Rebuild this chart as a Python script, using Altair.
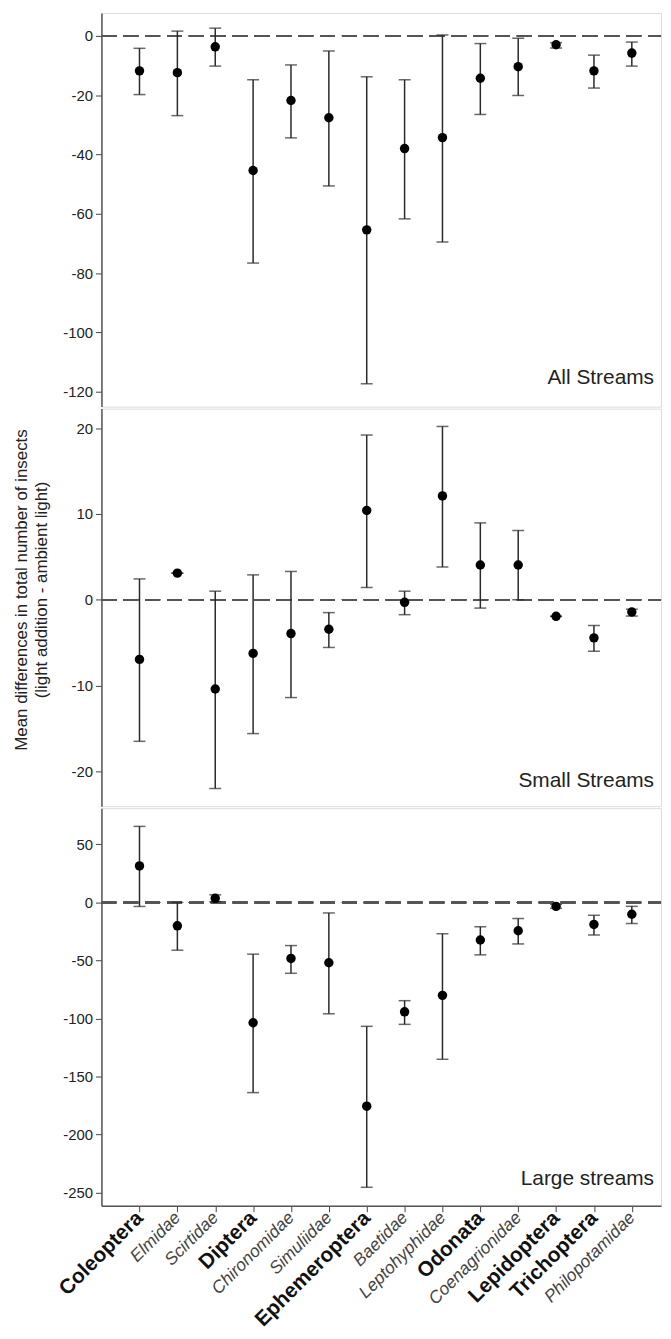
import altair as alt
import pandas as pd

# ---------------- data ----------------
taxa = ["Coleoptera", "Elmidae", "Scirtidae", "Diptera", "Chironomidae", "Simuliidae",
        "Ephemeroptera", "Baetidae", "Leptohyphidae", "Odonata", "Coenagrionidae",
        "Lepidoptera", "Trichoptera", "Philopotamidae"]
orders = ["Coleoptera", "Diptera", "Ephemeroptera", "Odonata", "Lepidoptera", "Trichoptera"]

all_mean = [-11.8, -12.4, -3.7, -45.4, -21.8, -27.6, -65.4, -38.0, -34.3, -14.3, -10.4, -3.0, -11.8, -5.8]
all_hi   = [-4.2, 1.6, 2.6, -14.8, -9.8, -5.1, -13.8, -14.8, 0.3, -2.6, -0.8, -2.3, -6.5, -2.1]
all_lo   = [-19.8, -26.9, -10.2, -76.6, -34.4, -50.6, -117.3, -61.7, -69.5, -26.5, -20.1, -4.1, -17.6, -10.2]

small_mean = [-6.95, 3.1, -10.4, -6.25, -3.94, -3.44, 10.4, -0.3, 12.1, 4.05, 4.05, -1.93, -4.44, -1.43]
small_hi   = [2.43, 3.1, 1.0, 2.9, 3.3, -1.5, 19.2, 1.0, 20.2, 8.96, 8.07, -1.93, -3.0, -1.1]
small_lo   = [-16.5, 3.1, -22.0, -15.6, -11.4, -5.56, 1.43, -1.74, 3.82, -0.97, 0.0, -1.93, -6.0, -1.9]

large_mean = [31.4, -20.2, 3.5, -103.7, -48.3, -52.0, -175.6, -94.3, -80.1, -32.4, -24.4, -3.4, -19.0, -10.2]
large_hi   = [65.5, 0.0, 6.5, -44.6, -37.2, -9.1, -106.8, -84.7, -27.0, -21.0, -13.9, -1.7, -11.1, -3.4]
large_lo   = [-3.5, -41.2, 0.5, -163.9, -61.1, -96.0, -245.5, -105.1, -135.2, -45.2, -35.8, -5.1, -28.1, -18.2]

all_ticks = [0, -20, -40, -60, -80, -100, -120]
small_ticks = [20, 10, 0, -10, -20]
large_ticks = [50, 0, -50, -100, -150, -200, -250]

y_title = ["Mean differences in total number of insects", "(light addition - ambient light)"]

FONT = "Liberation Sans"
W = 563
is_order = "indexof(" + str(orders) + ", datum.value) >= 0"


def panel(mean, lo, hi, domain, ticks, height, label, label_dy, bottom=False, title=None):
    df = pd.DataFrame({"taxon": taxa, "mean": mean, "lo": lo, "hi": hi})
    yscale = alt.Scale(domain=domain, nice=False, zero=False)
    if bottom:
        xaxis = alt.Axis(
            title=None, labelAngle=315, labelAlign="right", labelBaseline="middle",
            labelPadding=3, tickSize=6, tickColor="#444", domainColor="#555", domainWidth=1.5,
            labelOverlap=False, labelFont=FONT, labelLimit=300,
            labelFontSize={"condition": {"test": is_order, "value": 21}, "value": 17.5},
            labelFontWeight={"condition": {"test": is_order, "value": "bold"}, "value": "normal"},
            labelFontStyle={"condition": {"test": is_order, "value": "normal"}, "value": "italic"},
            labelColor={"condition": {"test": is_order, "value": "#111"}, "value": "#444"},
        )
    else:
        xaxis = None
    x = alt.X("taxon:N", sort=taxa,
              scale=alt.Scale(type="point", padding=0.888, align=0.566), axis=xaxis)
    yaxis_kw = dict(values=ticks, tickSize=6, tickColor="#444", labelFontSize=15, labelFont=FONT,
                    labelColor="#222", labelPadding=3, grid=False, domainColor="#555", domainWidth=1.5,
                    labelExpr="'' + datum.value")
    if title:
        yaxis_kw.update(title=title, titleFontSize=17, titleFont=FONT, titleFontWeight="normal",
                        titleColor="#222", titleX=-71, titleY=182, titleLineHeight=20)
    else:
        yaxis_kw.update(title=None)
    y_lo = alt.Y("lo:Q", scale=yscale, axis=alt.Axis(**yaxis_kw))

    base = alt.Chart(df)
    zero = base.mark_rule(color="#555", strokeWidth=1.5, strokeDash=[15, 7]).encode(
        y=alt.datum(0), x=alt.value(0), x2=alt.value(W))
    bars = base.mark_rule(color="#2a2a2a", strokeWidth=1.5).encode(x=x, y=y_lo, y2="hi:Q")
    cap_lo = base.mark_tick(color="#2a2a2a", thickness=1.5, size=12).encode(x=x, y="lo:Q")
    cap_hi = base.mark_tick(color="#2a2a2a", thickness=1.5, size=12).encode(x=x, y="hi:Q")
    pts = base.mark_circle(color="black", opacity=1, size=90).encode(x=x, y="mean:Q")
    txt = alt.Chart(pd.DataFrame({"t": [label]})).mark_text(
        align="right", baseline="alphabetic", fontSize=21, font=FONT, color="#222"
    ).encode(text="t:N", x=alt.value(W - 7), y=alt.value(height - label_dy))
    return alt.layer(zero, bars, cap_lo, cap_hi, pts, txt).properties(width=W, height=height)


top = panel(all_mean, all_lo, all_hi, [-125, 7.7], all_ticks, 396, "All Streams", 23)
mid = panel(small_mean, small_lo, small_hi, [-24.06, 22.28], small_ticks, 400, "Small Streams", 19,
            title=y_title)
bot = panel(large_mean, large_lo, large_hi, [-261.4, 81.2], large_ticks, 400, "Large streams", 21,
            bottom=True)

chart = alt.vconcat(top, mid, bot, spacing=0).properties(
    padding={"left": 4, "top": 0, "right": 0, "bottom": 0}
).configure_view(stroke="#555", strokeWidth=1.5).configure(font=FONT)

chart.save("out.html", embed_options={"renderer": "svg", "actions": False})
